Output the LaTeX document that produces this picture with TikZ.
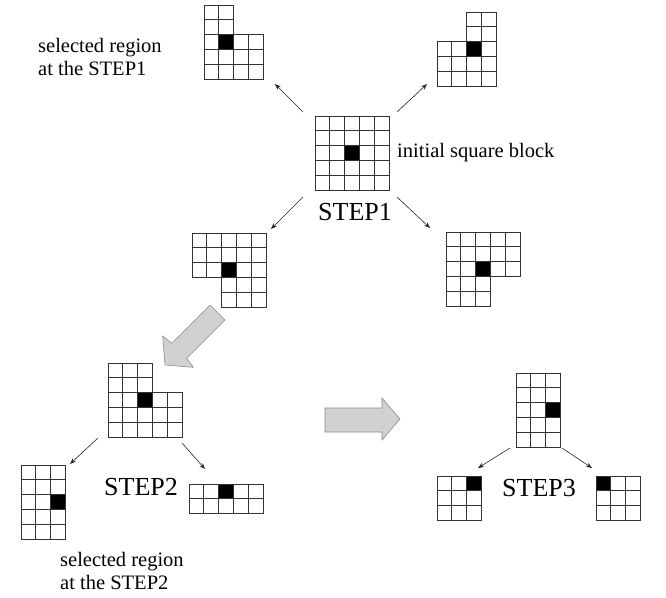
\documentclass[tikz,border=0pt]{standalone}
\usepackage{fontspec}
\setmainfont{Liberation Serif}
\usetikzlibrary{arrows.meta}
\def\cs{14.8}
\newcommand{\drawcells}[4]{%
  \begin{scope}[shift={(#1,#2)}]
    \foreach \bc/\br in {#4} \fill[black] (\bc*\cs,\br*\cs) rectangle ++(\cs,\cs);
    \foreach \r/\a/\b in {#3} {
      \foreach \c in {\a,...,\b} \draw[gridline] (\c*\cs,\r*\cs) rectangle ++(\cs,\cs);
    }
  \end{scope}}
\begin{document}
\begin{tikzpicture}[x=1pt,y=-1pt,
  gridline/.style={draw=black!80,line width=1pt},
  lbl/.style={font=\fontsize{20.5}{23.5}\selectfont,inner sep=0pt},
  steplbl/.style={font=\fontsize{26}{29}\selectfont,inner sep=0pt},
  thinarrow/.style={draw=black!85,line width=0.6pt,-{Stealth[length=6pt,width=4.5pt]}},
  bigarrow/.style={fill=black!18,draw=black!45,line width=0.6pt}]
\useasboundingbox (0,0) rectangle (666,597);
% grids
\drawcells{204}{5}{0/0/1,1/0/1,2/0/3,3/0/3,4/0/3}{1/2}
\drawcells{437}{12}{0/2/3,1/2/3,2/0/3,3/0/3,4/0/3}{2/2}
\drawcells{315}{116}{0/0/4,1/0/4,2/0/4,3/0/4,4/0/4}{2/2}
\drawcells{192}{233}{0/0/4,1/0/4,2/0/4,3/2/4,4/2/4}{2/2}
\drawcells{446}{232}{0/0/4,1/0/4,2/0/4,3/0/2,4/0/2}{2/2}
\drawcells{108}{363}{0/0/2,1/0/2,2/0/4,3/0/4,4/0/4}{2/2}
\drawcells{21}{465}{0/0/2,1/0/2,2/0/2,3/0/2,4/0/2}{2/2}
\drawcells{189}{484}{0/0/4,1/0/4}{2/0}
\drawcells{516}{373}{0/0/2,1/0/2,2/0/2,3/0/2,4/0/2}{2/2}
\drawcells{437}{476}{0/0/2,1/0/2,2/0/2}{2/0}
\drawcells{596}{476}{0/0/2,1/0/2,2/0/2}{0/0}
% labels
\node[lbl,anchor=west,align=left] (sel1) at (38,57) {selected region\\at the STEP1};
\node[lbl,anchor=west] (init) at (397,153) {initial square block};
\node[steplbl] (s1) at (355,212) {STEP1};
\node[steplbl] (s2) at (141,487) {STEP2};
\node[steplbl] (s3) at (539,488) {STEP3};
\node[lbl,anchor=west,align=left] (sel2) at (60,571) {selected region\\at the STEP2};
% arrow end points
\coordinate (c1a) at (303,112); \coordinate (c1b) at (275,84);
\coordinate (c2a) at (397,112); \coordinate (c2b) at (427,84);
\coordinate (c3a) at (303,197); \coordinate (c3b) at (271,229);
\coordinate (c4a) at (397,197); \coordinate (c4b) at (430,228);
\coordinate (d1a) at (98,438); \coordinate (d1b) at (70,464);
\coordinate (d2a) at (182,443); \coordinate (d2b) at (205,469);
\coordinate (e1a) at (510,448); \coordinate (e1b) at (478,468);
\coordinate (e2a) at (562,448); \coordinate (e2b) at (592,468);
\draw[thinarrow] (c1a) -- (c1b);
\draw[thinarrow] (c2a) -- (c2b);
\draw[thinarrow] (c3a) -- (c3b);
\draw[thinarrow] (c4a) -- (c4b);
\draw[thinarrow] (d1a) -- (d1b);
\draw[thinarrow] (d2a) -- (d2b);
\draw[thinarrow] (e1a) -- (e1b);
\draw[thinarrow] (e2a) -- (e2b);
% big grey arrows
\draw[bigarrow] (210,305) -- (225,320) -- (186.7,358.3) -- (193.3,367.3) -- (165,365) -- (162.7,336) -- (171.7,343.3) -- cycle;
\draw[bigarrow] (325,408) -- (382,408) -- (382,398) -- (400,419) -- (382,440) -- (382,432) -- (325,432) -- cycle;
\end{tikzpicture}
\end{document}
